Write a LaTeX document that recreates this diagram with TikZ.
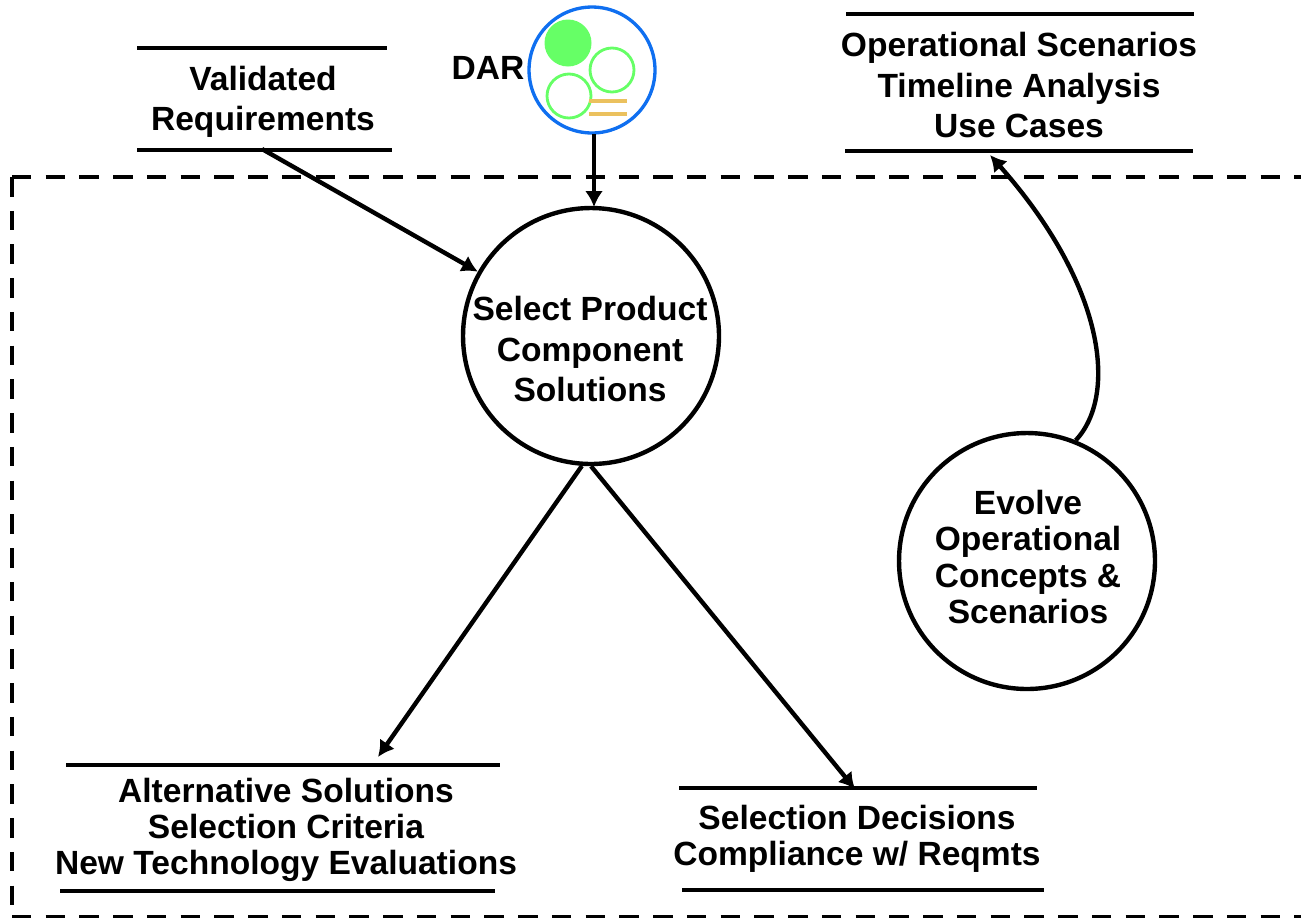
\documentclass[tikz,border=0pt]{standalone}
\usepackage{fontspec}
\setmainfont{Liberation Sans}
\usetikzlibrary{arrows.meta}

\definecolor{darblue}{HTML}{0F6FF0}
\definecolor{dargreen}{HTML}{66FF66}
\definecolor{darorange}{HTML}{EBC15E}

\begin{document}
\begin{tikzpicture}[x=0.02cm,y=-0.02cm]

		\tikzset{vertex/.style = {shape=circle,draw,line width=2.5pt,minimum size=5.12cm,inner sep=0pt}}
		\tikzset{wide/.style = {align=center,inner sep=0pt,font=\bfseries\fontsize{19.1}{22.9}\selectfont}}
		\tikzset{tight/.style = {align=center,inner sep=0pt,font=\bfseries\fontsize{19.1}{20.7}\selectfont}}
		\tikzset{bar/.style = {line width=2.5pt}}
		\tikzset{edge/.style = {->,> = {Latex[length=0.32cm,width=0.36cm]},line width=2.5pt}}
		\tikzset{frame/.style = {line width=2.5pt,dash pattern=on 0.39cm off 0.285cm}}
		\tikzset{ball/.style = {shape=circle,draw=dargreen,line width=1.6pt,minimum size=0.88cm,inner sep=0pt}}
		\useasboundingbox (0,0) rectangle (1301,917);
		% boundary
		\coordinate (f1) at (1301,177);
		\coordinate (f2) at (12,177);
		\coordinate (f3) at (12,917);
		\coordinate (f4) at (1301,917);
		\draw[frame] (f2) -- (f1);
		\draw[frame] (f2) -- (f3);
		\draw[frame] (f3) -- (f4);
		% vertices
		\node[vertex] (select) at (591,336) {};
		\node[vertex] (evolve) at (1027,561) {};
		\node[wide] (selecttext) at (590,349) {Select Product\\Component\\Solutions};
		\node[tight] (evolvetext) at (1028,557) {Evolve\\Operational\\Concepts \&\\Scenarios};
		% stores
		\node[wide] (validated) at (263,102) {Validated\\Requirements};
		\node[wide] (operational) at (1019,85) {Operational Scenarios\\Timeline Analysis\\Use Cases};
		\node[tight] (alternative) at (286,830) {Alternative Solutions\\Selection Criteria\\New Technology Evaluations};
		\node[tight] (decisions) at (857,839) {Selection Decisions\\Compliance w/ Reqmts};
		\draw[bar] (137,48) -- (387,48);
		\draw[bar] (137,150) -- (392,150);
		\draw[bar] (846,14) -- (1194,14);
		\draw[bar] (845,151) -- (1193,151);
		\draw[bar] (66,765) -- (500,765);
		\draw[bar] (60,891) -- (495,891);
		\draw[bar] (679,788) -- (1037,788);
		\draw[bar] (682,890) -- (1044,890);
		% DAR
		\node[wide] (darlabel) at (488,68) {DAR};
		\node[shape=circle,draw=darblue,line width=1.9pt,fill=white,minimum size=2.52cm,inner sep=0pt] (dar) at (592,70) {};
		\node[ball,fill=dargreen,draw=none,minimum size=0.94cm] (ball1) at (568,43) {};
		\node[ball] (ball2) at (612,70) {};
		\node[ball] (ball3) at (569,96) {};
		\draw[darorange,line width=2.3pt] (589,101) -- (627,101);
		\draw[darorange,line width=2.3pt] (589,114) -- (627,114);
		% free ends
		\coordinate (a) at (262,149);
		\coordinate (b) at (378,757);
		\coordinate (c) at (855,789);
		\coordinate (d) at (990,155);
		\coordinate (e) at (594,134);
		\coordinate (g) at (594,207);
		%edges
		\draw[edge] (e) -- (g);
		\draw[edge] (a) -- (select);
		\draw[edge] (select.-94) -- (b);
		\draw[edge] (select.south) -- (c);
		\draw[edge] (evolve.68) .. controls (1118,395) and (1105,285) .. (d);
\end{tikzpicture}
\end{document}
